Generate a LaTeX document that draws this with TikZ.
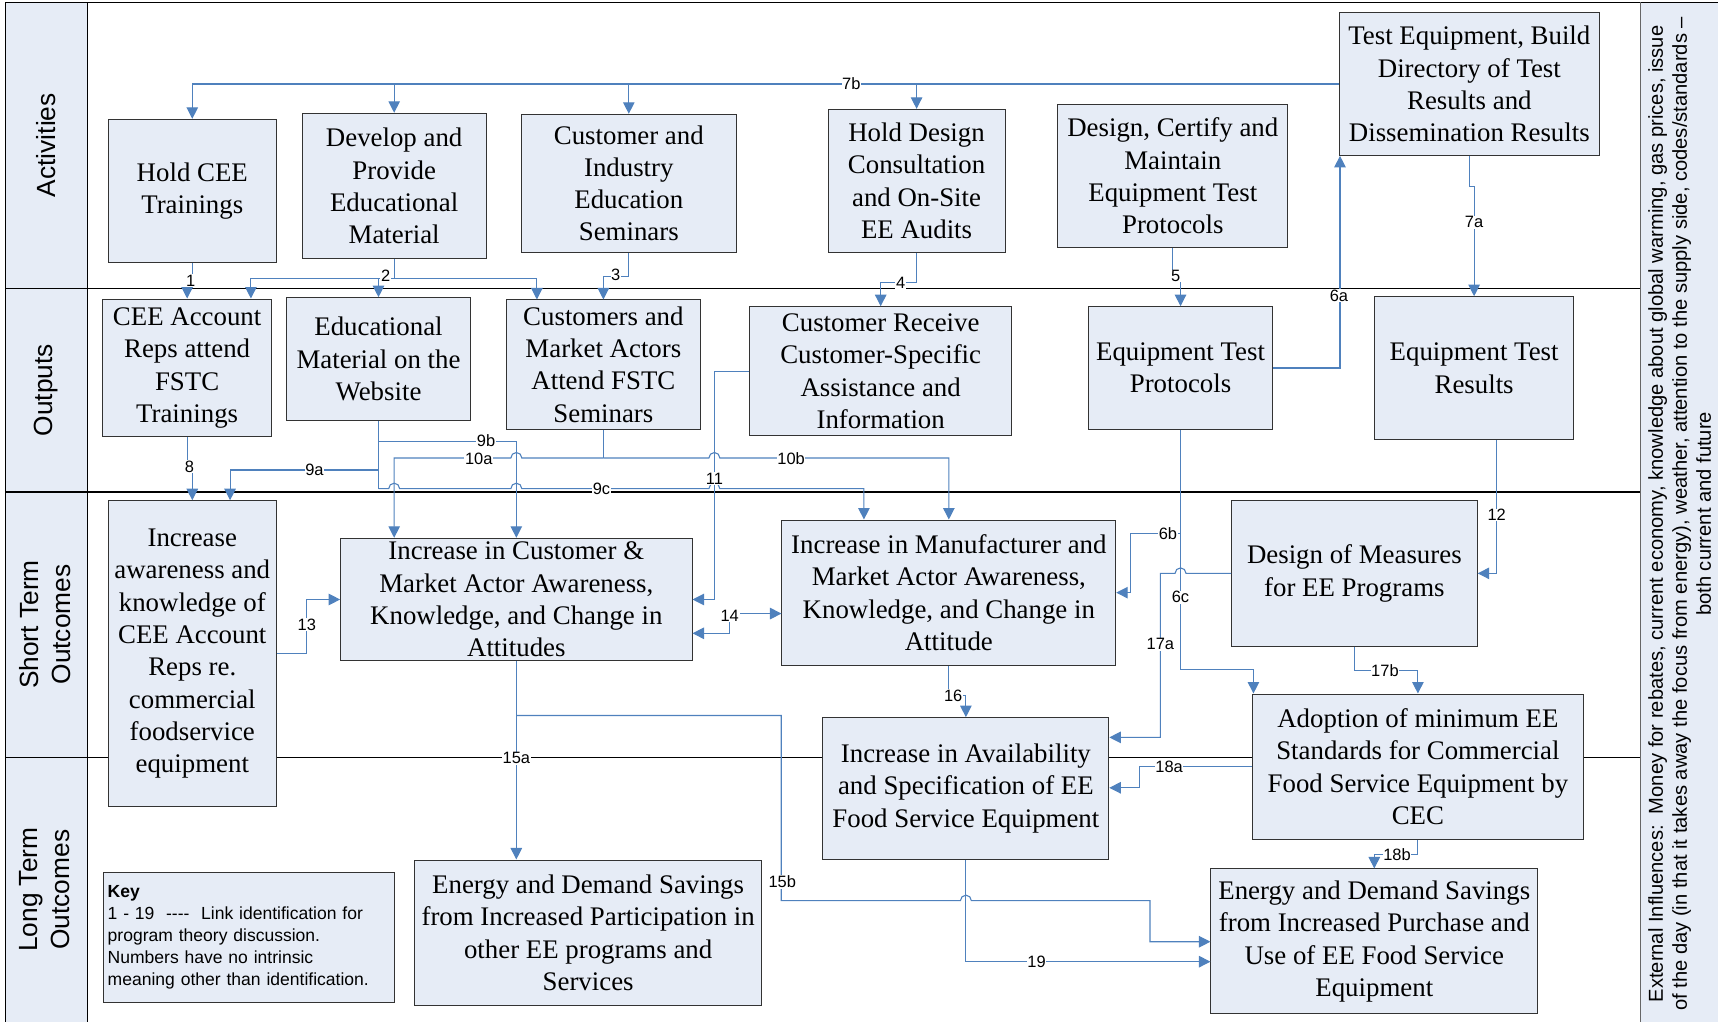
\documentclass[tikz,border=0pt]{standalone}
\usepackage{fontspec}
\setmainfont{Liberation Serif}
\newfontfamily\arialfont{Liberation Sans}
\usetikzlibrary{arrows.meta}
\definecolor{boxfill}{RGB}{230,236,246}
\definecolor{lanefill}{RGB}{230,236,246}
\definecolor{linkblue}{RGB}{79,129,189}
\newcommand{\bxfont}{\fontsize{24.5}{29.5}\selectfont}
\newcommand{\lnkfont}{\arialfont\fontsize{15}{18}\selectfont}
\newcommand{\lnfont}{\arialfont\fontsize{24}{29}\selectfont}
\newcommand{\kyfont}{\arialfont\fontsize{16}{20}\selectfont}
\newcommand{\exfont}{\arialfont\fontsize{18.4}{22}\selectfont}
\tikzset{
  box/.style={draw=black!80, fill=boxfill, line width=0.9pt, align=center, font=\bxfont, inner sep=1pt},
  lane/.style={draw=black, line width=1pt},
  lanelab/.style={rotate=90, align=center, font=\lnfont},
  conn/.style={draw=linkblue, line width=1pt},
  arr/.style={conn, -{Triangle[length=10.5pt,width=10.5pt]}},
  darr/.style={conn, {Triangle[length=10.5pt,width=10.5pt]}-{Triangle[length=10.5pt,width=10.5pt]}},
  lbl/.style={fill=white, inner sep=0.6pt, font=\lnkfont},
}
\begin{document}
\begin{tikzpicture}[x=1pt,y=-1pt]
\useasboundingbox (0,0) rectangle (1568,933);

% swimlane frame
\fill[lanefill] (5,2) rectangle (80,933);
\fill[lanefill] (1497,2) rectangle (1568,933);
\draw[lane] (5,2) -- (1568,2);
\draw[lane] (5,2) -- (5,933);
\draw[lane] (80,2) -- (80,933);
\draw[lane] (5,263) -- (1497,263);
\draw[lane] (5,449) -- (1497,449);
\draw[lane] (5,691) -- (1497,691);
\draw[draw=black!60, line width=1pt] (1497,2) -- (1497,933);

\node[lanelab] (lAct) at (42,132.5) {Activities};
\node[lanelab] (lOut) at (42,356) {Outputs};
\node[lanelab] (lST) at (41,570) {Short Term\\Outcomes};
\node[lanelab] (lLT) at (41,812) {Long Term\\Outcomes};

\node[rotate=90, align=center, font=\exfont] (ext) at (1533,469)
  {External Influences:\ \ Money for rebates, current economy, knowledge about global warming, gas prices, issue\\
   of the day (in that it takes away the focus from energy), weather, attention to the supply side, codes/standards –\\
   both current and future};

% activities
\node[box, minimum width=153.4pt, minimum height=130.9pt] (A1) at (175.5,174.35) {Hold CEE\\Trainings};
\node[box, minimum width=167.7pt, minimum height=132.7pt] (A2) at (359.75,169.75) {Develop and\\Provide\\Educational\\Material};
\node[box, minimum width=195.8pt, minimum height=126pt] (A3) at (573.9,167.3) {Customer and\\Industry\\Education\\Seminars};
\node[box, minimum width=161.7pt, minimum height=130.5pt] (A4) at (836.55,165.05) {Hold Design\\Consultation\\and On-Site\\EE Audits};
\node[box, minimum width=209.6pt, minimum height=130.2pt] (A5) at (1070.4,160.6) {Design, Certify and\\Maintain\\Equipment Test\\Protocols};
\node[box, minimum width=237.1pt, minimum height=130.2pt] (A6) at (1341.05,76.7) {Test Equipment, Build\\Directory of Test\\Results and\\Dissemination Results};

% outputs
\node[box, minimum width=154.4pt, minimum height=125.9pt] (O1) at (170.8,335.85) {CEE Account\\Reps attend\\FSTC\\Trainings};
\node[box, minimum width=168.3pt, minimum height=111.9pt] (O2) at (345.45,327.65) {Educational\\Material on the\\Website};
\node[box, minimum width=177.2pt, minimum height=118pt] (O3) at (550.7,332.8) {Customers and\\Market Actors\\Attend FSTC\\Seminars};
\node[box, minimum width=239.6pt, minimum height=117.7pt] (O4) at (803.8,338.75) {Customer Receive\\Customer-Specific\\Assistance and\\Information};
\node[box, minimum width=167.9pt, minimum height=111.9pt] (O5) at (1077.45,335.85) {Equipment Test\\Protocols};
\node[box, minimum width=181.6pt, minimum height=130.5pt] (O6) at (1345.4,336.05) {Equipment Test\\Results};

% short term outcomes
\node[box, minimum width=153.4pt, minimum height=279.2pt] (S1) at (175.5,596.6) {Increase\\awareness and\\knowledge of\\CEE Account\\Reps re.\\commercial\\foodservice\\equipment};
\node[box, minimum width=320.7pt, minimum height=111.7pt] (S2) at (471.25,547.15) {Increase in Customer \&\\Market Actor Awareness,\\Knowledge, and Change in\\Attitudes};
\node[box, minimum width=304.6pt, minimum height=132.6pt] (S3) at (866,540.9) {Increase in Manufacturer and\\Market Actor Awareness,\\Knowledge, and Change in\\Attitude};
\node[box, minimum width=224.2pt, minimum height=132.6pt] (S4) at (1236.1,523.3) {Design of Measures\\for EE Programs};
\node[box, minimum width=302.6pt, minimum height=132.6pt] (S5) at (1294.1,699.7) {Adoption of minimum EE\\Standards for Commercial\\Food Service Equipment by\\CEC};
\node[box, minimum width=260.9pt, minimum height=129.3pt] (S6) at (881.55,719.65) {Increase in Availability\\and Specification of EE\\Food Service Equipment};

% long term outcomes
\node[box, minimum width=317pt, minimum height=133pt] (L1) at (536.8,851.4) {Energy and Demand Savings\\from Increased Participation in\\other EE programs and\\Services};
\node[box, minimum width=298.2pt, minimum height=132.3pt] (L2) at (1254.3,859.25) {Energy and Demand Savings\\from Increased Purchase and\\Use of EE Food Service\\Equipment};

% key
\node[box, font=\kyfont, align=left, text width=257.5pt, inner xsep=4pt, minimum height=118.3pt] (key) at (227.05,855.65)
  {\textbf{Key}\\1 - 19\ \ -{}-{}-{}-\ \ Link identification for\\program theory discussion.\\Numbers have no intrinsic\\meaning other than identification.};

% ---- links ----
% 7b
\draw[arr] (A6.west) -| (A1.north);
\draw[arr] (A6.west -| A2.north) -- (A2.north);
\draw[arr] (A6.west -| A3.north) -- (A3.north);
\draw[arr] (A6.west -| A4.north) -- (A4.north);
\node[lbl] (n7b) at (777,76.7) {7b};

% 7a
\coordinate (k7a) at (1341.05,170);
\draw[arr] (A6.south) -- (k7a) -| (O6.north);
\node[lbl] (n7a) at (1345.4,203) {7a};

% 6a
\coordinate (x6a) at (1223,0);
\draw[arr] (O5.east) -- (O5.east -| x6a) -- (x6a |- A6.south);
\node[lbl] (n6a) at (1222,270) {6a};

% 5
\coordinate (k5) at (1070.4,252);
\draw[arr] (A5.south) -- (k5) -| (O5.north);
\node[lbl] (n5) at (1073,252) {5};

% 4
\coordinate (k4) at (836.55,258);
\draw[arr] (A4.south) -- (k4) -| (O4.north);
\node[lbl] (n4) at (822,258) {4};

% 3
\coordinate (k3) at (573.9,252);
\draw[arr] (A3.south) -- (k3) -| (O3.north);
\node[lbl] (n3) at (562,251) {3};

% 2
\coordinate (k2) at (359.75,254);
\coordinate (k2l) at (229,254);
\coordinate (k2r) at (490,254);
\draw[conn] (A2.south) -- (k2);
\draw[arr] (k2) -- (k2l) -- (k2l |- O1.north);
\draw[arr] (k2) -- (k2r) -- (k2r |- O3.north);
\draw[arr] (k2) -| (O2.north);
\node[lbl] (n2) at (352,252) {2};

% 1
\coordinate (k1) at (175.5,257);
\draw[arr] (A1.south) -- (k1) -| (O1.north);
\node[lbl] (n1) at (174,256) {1};

% 8
\coordinate (k8) at (170.8,426);
\draw[arr] (O1.south) -- (k8) -| (S1.north);
\node[lbl] (n8) at (173,426) {8};

% 9a, 9b, 9c from the website material
\coordinate (t9) at (345.45,446);
\coordinate (k9a) at (345.45,429);
\coordinate (k9b) at (345.45,402.6);
\coordinate (e9a) at (210,429);
\coordinate (e9c) at (788.5,446);
\draw[conn] (O2.south) -- (t9);
\draw[arr] (k9a) -- (e9a) -- (e9a |- S1.north);
\draw[arr] (k9b) -| (S2.north);
\draw[arr] (t9) -- (354.75,446) arc[start angle=180,end angle=360,radius=5]
  -- (466.25,446) arc[start angle=180,end angle=360,radius=5]
  -- (647,446) arc[start angle=180,end angle=360,radius=5]
  -- (e9c) -- (e9c |- S3.north);
\node[lbl] (n9a) at (287,429) {9a};
\node[lbl] (n9b) at (443.6,402.6) {9b};
\node[lbl] (n9c) at (549,446.5) {9c};

% 10a, 10b from the seminars
\coordinate (k10) at (550.7,418);
\coordinate (e10a) at (359.75,418);
\draw[conn] (O3.south) -- (k10);
\draw[arr] (k10) -- (476.25,418) arc[start angle=0,end angle=-180,radius=5]
  -- (e10a) -- (e10a |- S2.north);
\draw[arr] (k10) -- (647,418) arc[start angle=180,end angle=360,radius=5]
  -- (866,418) -- (S3.north);
\node[lbl] (n10a) at (437,418.5) {10a};
\node[lbl] (n10b) at (722,418.5) {10b};

% 11
\coordinate (k11) at (652,338.75);
\draw[arr] (O4.west) -- (k11) |- (S2.east);
\node[lbl] (n11) at (652,437) {11};

% 12
\coordinate (x12) at (1366,0);
\draw[arr] (x12 |- O6.south) |- (S4.east);
\node[lbl] (n12) at (1366,470) {12};

% 13
\coordinate (x13) at (280,0);
\draw[arr] (S1.east) -- (S1.east -| x13) |- (S2.west);
\node[lbl] (n13) at (280,570) {13};

% 14
\coordinate (x14) at (666,0);
\coordinate (y14a) at (0,578);
\coordinate (y14b) at (0,560);
\draw[darr] (S2.east |- y14a) -- (x14 |- y14a) -- (x14 |- y14b) -- (S3.west |- y14b);
\node[lbl] (n14) at (666,562) {14};

% 6b, 6c
\coordinate (k6c) at (1077.45,611);
\coordinate (x6c) at (1144,0);
\coordinate (k6b) at (1077.45,487);
\coordinate (x6b) at (1032,0);
\draw[arr] (O5.south) -- (k6c) -- (k6c -| x6c) -- (x6c |- S5.north);
\draw[arr] (k6b) -- (k6b -| x6b) |- (S3.east);
\node[lbl] (n6b) at (1066,487) {6b};
\node[lbl] (n6c) at (1077.45,545) {6c};

% 17a
\coordinate (x17) at (1059,0);
\coordinate (y17) at (0,673);
\draw[arr] (S4.west) -- (1082.45,523.3) arc[start angle=0,end angle=-180,radius=5]
  -- (S4.west -| x17) -- (x17 |- y17) -- (S6.east |- y17);
\node[lbl] (n17a) at (1059,588) {17a};

% 16
\coordinate (y16) at (0,635);
\draw[arr] (S3.south) -- (S3.south |- y16) -| (S6.north);
\node[lbl] (n16) at (870,635) {16};

% 17b
\coordinate (y17b) at (0,612);
\draw[arr] (S4.south) -- (S4.south |- y17b) -| (S5.north);
\node[lbl] (n17b) at (1264,612) {17b};

% 18a
\coordinate (x18) at (1040,0);
\coordinate (y18) at (0,719);
\draw[arr] (S5.west) -- (S5.west -| x18) -- (x18 |- y18) -- (S6.east |- y18);
\node[lbl] (n18a) at (1067,700) {18a};

% 18b
\coordinate (y18b) at (0,780);
\draw[arr] (S5.south) -- (S5.south |- y18b) -| (L2.north);
\node[lbl] (n18b) at (1275,780) {18b};

% 15a, 15b
\draw[arr] (S2.south) -- (S2.south |- L1.north);
\coordinate (k15) at (471.25,653);
\coordinate (x15b) at (713,0);
\coordinate (y15b) at (0,822);
\coordinate (x15c) at (1049.6,0);
\coordinate (y15c) at (0,859.5);
\draw[arr] (k15) -- (k15 -| x15b) -- (x15b |- y15b)
  -- (876.55,822) arc[start angle=180,end angle=360,radius=5]
  -- (x15c |- y15b) -- (x15c |- y15c) -- (L2.west |- y15c);
\node[lbl] (n15a) at (471.25,692) {15a};
\node[lbl] (n15b) at (714,805) {15b};

% 19
\coordinate (y19) at (0,877.7);
\draw[arr] (S6.south) -- (S6.south |- y19) -- (L2.west |- y19);
\node[lbl] (n19) at (946,877.7) {19};
\end{tikzpicture}
\end{document}
